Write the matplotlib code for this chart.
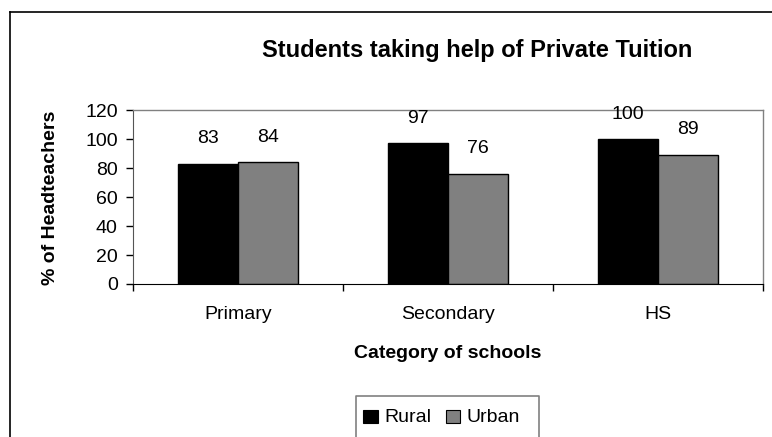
import matplotlib
matplotlib.use("Agg")
import matplotlib.pyplot as plt
from matplotlib.patches import Rectangle
from matplotlib.lines import Line2D
import numpy as np

categories = ["Primary", "Secondary", "HS"]
rural = [83, 97, 100]
urban = [84, 76, 89]
series_names = ["Rural", "Urban"]
yticks = [0, 20, 40, 60, 80, 100, 120]

plt.rcParams['font.family'] = ['Liberation Sans', 'DejaVu Sans']

W, H = 772, 437
fig = plt.figure(figsize=(W / 100, H / 100), dpi=100)

def fx(px):
    return px / W

def fy(py):
    return 1 - py / H

FS = 14

# outer frame (top & left visible, cut off at right/bottom)
fig.add_artist(Line2D([fx(10), fx(10)], [fy(12), 0], color="black", lw=1.2, transform=fig.transFigure))
fig.add_artist(Line2D([fx(10), 1], [fy(12), fy(12)], color="black", lw=1.2, transform=fig.transFigure))

ax = fig.add_axes([fx(133), fy(284), fx(763) - fx(133), fy(110) - fy(284)])
x = np.arange(len(categories))
bw = 60 / 210
ax.bar(x - bw / 2, rural, width=bw, color="black", edgecolor="black", linewidth=1.0, label=series_names[0])
ax.bar(x + bw / 2, urban, width=bw, color="#808080", edgecolor="black", linewidth=1.0, label=series_names[1])

for xi, v in zip(x - bw / 2, rural):
    ax.annotate(str(v), (xi, v), xytext=(0, 18), textcoords="offset points",
                ha="center", va="center", fontsize=FS)
for xi, v in zip(x + bw / 2, urban):
    ax.annotate(str(v), (xi, v), xytext=(0, 18), textcoords="offset points",
                ha="center", va="center", fontsize=FS)

ax.set_xlim(-0.5, len(categories) - 0.5)
ax.set_ylim(0, 120)
ax.set_yticks(yticks)
ax.set_yticklabels([str(t) for t in yticks], fontsize=FS)
ax.set_xticks(x)
ax.set_xticklabels(categories, fontsize=FS)
ax.tick_params(axis="x", length=0, pad=16)
ax.set_xticks(np.arange(len(categories) + 1) - 0.5, minor=True)
ax.tick_params(axis="x", which="minor", length=5, direction="out", width=1)
ax.tick_params(axis="y", length=5, direction="out", width=1, pad=6)

for s in ["top", "right"]:
    ax.spines[s].set_color("#808080")
    ax.spines[s].set_linewidth(1.0)
ax.spines["bottom"].set_color("black")
ax.spines["left"].set_color("#555555")

fig.text(fx(51), fy(198), "% of Headteachers", rotation=90, ha="center", va="center",
         fontsize=14, fontweight="bold")

fig.text(fx(448), fy(354), "Category of schools", ha="center", va="center",
         fontsize=14, fontweight="bold")
fig.text(fx(477), fy(51), "Students taking help of Private Tuition", ha="center", va="center",
         fontsize=17, fontweight="bold")

# legend box (cut off at the bottom)
fig.add_artist(Line2D([fx(356), fx(356), fx(539), fx(539)], [0, fy(396), fy(396), 0],
                      color="#808080", lw=1.2, transform=fig.transFigure))
fig.add_artist(Rectangle((fx(363), fy(423)), fx(378) - fx(363), fy(410) - fy(423),
                         facecolor="black", edgecolor="black", lw=0.8, transform=fig.transFigure))
fig.text(fx(384), fy(417), series_names[0], ha="left", va="center", fontsize=FS)
fig.add_artist(Rectangle((fx(446), fy(423)), fx(460) - fx(446), fy(410) - fy(423),
                         facecolor="#808080", edgecolor="black", lw=0.8, transform=fig.transFigure))
fig.text(fx(466), fy(417), series_names[1], ha="left", va="center", fontsize=FS)

fig.savefig("out.png", dpi=100)
